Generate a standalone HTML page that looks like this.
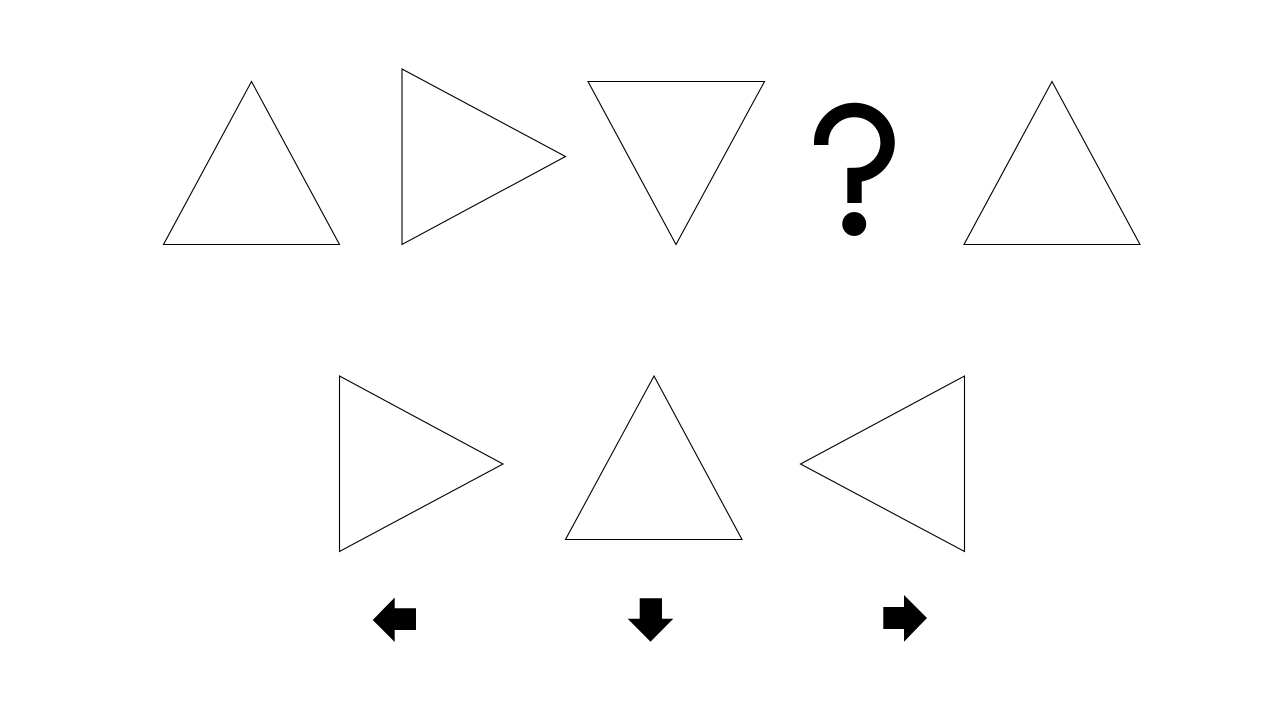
<!DOCTYPE html>
<html>
<head>
<meta charset="utf-8">
<title>Triangle rotation puzzle</title>
<style>
html,body{margin:0;padding:0;background:#fff;width:1280px;height:711px;overflow:hidden}
svg{display:block}
.tri{fill:#fff;stroke:#000;stroke-width:1.1;stroke-linejoin:miter}
</style>
</head>
<body>
<svg width="1280" height="711" viewBox="0 0 1280 711">
<polygon class="tri" points="251.5,81.5 339.5,244.5 163.5,244.5"/>
<polygon class="tri" points="402,69 565.5,156.5 402,244.5"/>
<polygon class="tri" points="588,81.5 764.5,81.5 676,244.5"/>
<g>
<path d="M821.2 145 V143 A33.2 32.5 0 1 1 854.5 175 V203" fill="none" stroke="#000" stroke-width="14.4"/>
<circle cx="854.2" cy="224" r="12" fill="#000"/>
</g>
<polygon class="tri" points="1052,81.5 1140,244.5 964,244.5"/>
<polygon class="tri" points="339.5,376 503,464 339.5,551.5"/>
<polygon class="tri" points="654,376 742,539.5 565.5,539.5"/>
<polygon class="tri" points="964.5,376 964.5,551.5 800.5,464"/>
<polygon fill="#000" points="372.7,620 394.7,597.5 394.7,608.3 416,608.3 416,630 394.7,630 394.7,642"/>
<polygon fill="#000" points="639.7,598.3 662,598.3 662,618.7 673.3,618.7 650.5,641.7 627.7,618.7 639.7,618.7"/>
<polygon fill="#000" points="883.3,607 904,607 904,595 927,618 904,641.7 904,629 883.3,629"/>
</svg>
</body>
</html>
